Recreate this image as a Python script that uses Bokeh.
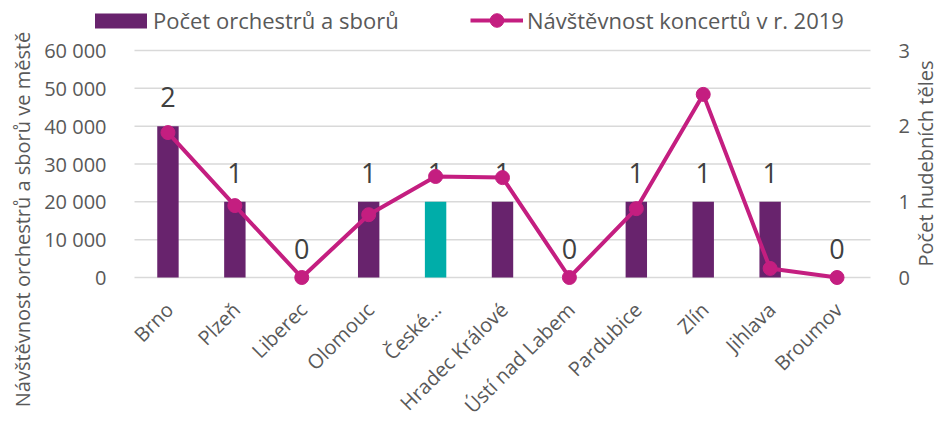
import math
from bokeh.plotting import figure
from bokeh.models import (Range1d, LinearAxis, FixedTicker, Legend, LegendItem,
                          Label, ColumnDataSource)
from bokeh.core.properties import value
from bokeh.embed import file_html
from bokeh.resources import INLINE

# ---- data ----
cities = ["Brno", "Plzeň", "Liberec", "Olomouc", "České…", "Hradec Králové",
          "Ústí nad Labem", "Pardubice", "Zlín", "Jihlava", "Broumov"]
ensembles = [2, 1, 0, 1, 1, 1, 0, 1, 1, 1, 0]
attendance = [38300, 19000, 0, 16600, 26700, 26400, 0, 18200, 48400, 2400, 0]
highlight_city = "České…"
left_ticks = [0, 10000, 20000, 30000, 40000, 50000, 60000]
left_tick_labels = ["0", "10 000", "20 000", "30 000", "40 000", "50 000", "60 000"]
right_ticks = [0, 1, 2, 3]

bar_label = "Počet orchestrů a sborů"
line_label = "Návštěvnost koncertů v r. 2019"
left_title = "Návštěvnost orchestrů a sborů ve městě"
right_title = "Počet hudebních těles"

# ---- style ----
FONT = "Open Sans"
GREY = "#595959"
PURPLE = "#68236D"
TEAL = "#00ADA9"
MAGENTA = "#C41E80"
GRID = "#D9D9D9"

# ---- layout (pixel positions on the page) ----
OFF = 0                     # page offset of the canvas
W, H = 938, 431             # canvas size
PLOT_L, PLOT_R = 134, 870   # plot area left / right (page px)
Y_ZERO, Y_TOP = 277, 50     # page px of value 0 and of the top tick

n = len(cities)
cat_px = (PLOT_R - PLOT_L) / n
x_start = -0.5 - (PLOT_L - OFF) / cat_px
x_end = n - 0.5 + (OFF + W - PLOT_R) / cat_px
axis_px = Y_ZERO - Y_TOP
below = (OFF + H - Y_ZERO) / axis_px
above = (Y_ZERO - OFF) / axis_px

idx = list(range(n))
src = ColumnDataSource(dict(
    x=idx,
    city=cities,
    ens=ensembles,
    att=attendance,
    lab=[str(v) for v in ensembles],
    zero=[0] * n,
    color=[TEAL if c == highlight_city else PURPLE for c in cities],
))
grid_src = ColumnDataSource(dict(
    x0=[-0.5] * len(left_ticks), x1=[n - 0.5] * len(left_ticks), t=left_ticks))

p = figure(x_range=Range1d(x_start, x_end),
           y_range=Range1d(-left_ticks[-1] * below, left_ticks[-1] * above),
           width=W, height=H, min_border=0,
           output_backend="svg", toolbar_location=None)
p.extra_y_ranges = {"right": Range1d(-right_ticks[-1] * below,
                                     right_ticks[-1] * above)}
p.outline_line_color = None
p.background_fill_color = "white"
p.border_fill_color = "white"
p.xaxis.visible = False
p.xgrid.grid_line_color = None
p.ygrid.grid_line_color = None

# left axis placed at the plot-area edge
la = p.yaxis[0]
la.ticker = FixedTicker(ticks=left_ticks)
la.major_label_overrides = {t: l for t, l in zip(left_ticks, left_tick_labels)}
la.fixed_location = -0.5

# right axis
ra = LinearAxis(y_range_name="right", ticker=FixedTicker(ticks=right_ticks),
                fixed_location=n - 0.5)
p.add_layout(ra, "right")

for ax in (la, ra):
    ax.axis_line_color = None
    ax.major_tick_line_color = None
    ax.minor_tick_line_color = None
    ax.major_label_text_color = GREY
    ax.major_label_text_font = FONT
    ax.major_label_text_font_size = "20px"
    ax.major_label_standoff = 22

# gridlines across the plot area only
p.segment(x0="x0", x1="x1", y0="t", y1="t", source=grid_src,
          line_color=GRID, line_width=1.5)

# axis titles
lt = Label(x=22 - OFF, y=OFF + H - 219, x_units="screen", y_units="screen",
           text=left_title, angle=math.pi / 2, text_align="center",
           text_baseline="middle", text_font=FONT, text_font_size="20px",
           text_color=GREY)
rt = Label(x=925 - OFF, y=OFF + H - 163, x_units="screen", y_units="screen",
           text=right_title, angle=math.pi / 2, text_align="center",
           text_baseline="middle", text_font=FONT, text_font_size="20px",
           text_color=GREY)
p.add_layout(lt)
p.add_layout(rt)

# category labels under the zero line
p.text(x="x", y="zero", text="city", source=src, angle=math.pi / 4,
       text_align="right", text_baseline="top", x_offset=-8, y_offset=19,
       text_font=value(FONT), text_font_size="20px", text_color=GREY)

# glyphs
bars = p.vbar(x="x", top="ens", width=0.32, y_range_name="right",
              fill_color="color", line_color=None, source=src)
p.text(x="x", y="ens", text="lab", y_range_name="right", source=src,
       text_align="center", text_baseline="middle", y_offset=-29,
       text_font=value(FONT), text_font_size="27px", text_color="#404040")
ln = p.line(x="x", y="att", line_width=4, line_color=MAGENTA, source=src)
pts = p.scatter(x="x", y="att", size=14, fill_color=MAGENTA,
                line_color=MAGENTA, source=src)

common = dict(orientation="horizontal", label_text_font=FONT,
              label_text_font_size="22px", label_text_color=GREY,
              border_line_color=None, background_fill_alpha=0,
              padding=0, margin=0)
leg1 = Legend(items=[LegendItem(label=bar_label, renderers=[bars])],
              location=(88 - OFF, OFF + H - 35), glyph_width=65, glyph_height=19,
              label_standoff=0, **common)
leg2 = Legend(items=[LegendItem(label=line_label, renderers=[ln, pts])],
              location=(470 - OFF, OFF + H - 37), glyph_width=53, glyph_height=34,
              label_standoff=4, **common)
p.add_layout(leg1)
p.add_layout(leg2)

open("out.html", "w").write(file_html(p, INLINE))
